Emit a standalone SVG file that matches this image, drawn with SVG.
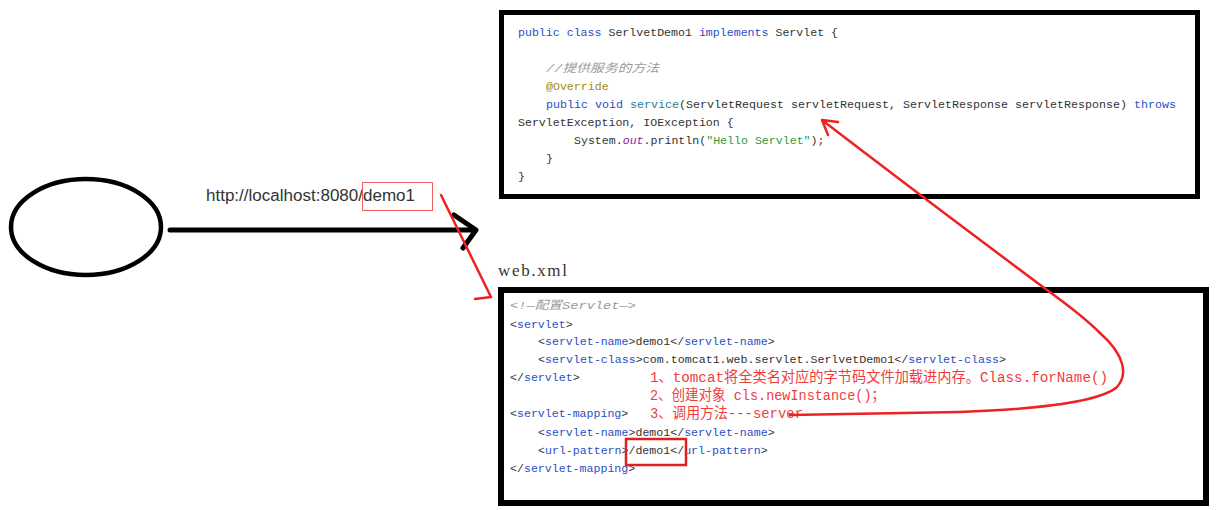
<svg xmlns="http://www.w3.org/2000/svg" width="1220" height="510" viewBox="0 0 1220 510">
<style>
.code{font-family:"Liberation Mono","Noto Sans CJK SC",monospace;font-size:11.6px;fill:#333;}
.kw{fill:#2a4fc4;}
.tag{fill:#2a4fc4;}
.cm{fill:#9a9a9a;font-style:italic;}
.an{fill:#a08a10;}
.mt{fill:#1f7f9a;}
.st{fill:#2f9a3a;}
.fd{fill:#8a1a9a;font-style:italic;}
.red{font-family:"Liberation Mono","Noto Sans CJK SC",monospace;font-size:14.5px;fill:#f03c3c;}
.box{fill:#fff;stroke:#000;}
.redl{fill:none;stroke:#ee2222;stroke-width:2.5;stroke-linecap:round;stroke-linejoin:round;}
</style>
<rect width="1220" height="510" fill="#fff"/>

<g id="client">
<ellipse cx="86" cy="227" rx="75" ry="48" fill="none" stroke="#000" stroke-width="4.5"/>
</g>

<g id="url-label">
<text x="206" y="201" font-family="Liberation Sans, Noto Sans, sans-serif" font-size="16" fill="#333" textLength="209" lengthAdjust="spacingAndGlyphs">http://localhost:8080/demo1</text>
<rect x="362.5" y="182.5" width="70" height="28" fill="none" stroke="#f06060" stroke-width="1"/>
</g>

<g id="servlet-class">
<rect class="box" x="501.5" y="12.5" width="696" height="184" stroke-width="5"/>
<text class="code" x="518" y="36"><tspan class="kw">public class</tspan> SerlvetDemo1 <tspan class="kw">implements</tspan> Servlet {</text>
<text class="code cm" x="546" y="72" textLength="113" lengthAdjust="spacingAndGlyphs">//提供服务的方法</text>
<text class="code an" x="546" y="90">@Override</text>
<text class="code" x="546" y="108" textLength="630" lengthAdjust="spacingAndGlyphs"><tspan class="kw">public void</tspan> <tspan class="mt">service</tspan>(ServletRequest servletRequest, ServletResponse servletResponse) <tspan class="kw">throws</tspan></text>
<text class="code" x="518" y="126">ServletException, IOException {</text>
<text class="code" x="574" y="144">System.<tspan class="fd">out</tspan>.println(<tspan class="st">"Hello Servlet"</tspan>);</text>
<text class="code" x="546" y="162">}</text>
<text class="code" x="518" y="180">}</text>
</g>

<g id="web-xml">
<text x="498" y="276" font-family="Liberation Serif, serif" font-size="17" fill="#333" textLength="69" lengthAdjust="spacing">web.xml</text>
<rect class="box" x="501" y="290" width="705" height="213" stroke-width="6"/>
<text class="code cm" x="510" y="309" textLength="126" lengthAdjust="spacingAndGlyphs">&lt;!—配置Servlet—&gt;</text>
<text class="code" x="510" y="328">&lt;<tspan class="tag">servlet</tspan>&gt;</text>
<text class="code" x="538" y="345">&lt;<tspan class="tag">servlet-name</tspan>&gt;demo1&lt;/<tspan class="tag">servlet-name</tspan>&gt;</text>
<text class="code" x="538" y="363" textLength="468" lengthAdjust="spacingAndGlyphs">&lt;<tspan class="tag">servlet-class</tspan>&gt;com.tomcat1.web.servlet.SerlvetDemo1&lt;/<tspan class="tag">servlet-class</tspan>&gt;</text>
<text class="code" x="510" y="381">&lt;/<tspan class="tag">servlet</tspan>&gt;</text>
<text class="code" x="510" y="417">&lt;<tspan class="tag">servlet-mapping</tspan>&gt;</text>
<text class="code" x="538" y="436">&lt;<tspan class="tag">servlet-name</tspan>&gt;demo1&lt;/<tspan class="tag">servlet-name</tspan>&gt;</text>
<text class="code" x="538" y="454">&lt;<tspan class="tag">url-pattern</tspan>&gt;/demo1&lt;/<tspan class="tag">url-pattern</tspan>&gt;</text>
<text class="code" x="510" y="472">&lt;/<tspan class="tag">servlet-mapping</tspan>&gt;</text>
<rect x="626" y="439" width="60" height="26" fill="none" stroke="#e02020" stroke-width="2.5"/>
</g>

<g id="steps">
<text class="red" x="650" y="382" textLength="458" lengthAdjust="spacingAndGlyphs">1、tomcat将全类名对应的字节码文件加载进内存。Class.forName()</text>
<text class="red" x="650" y="400" textLength="235" lengthAdjust="spacingAndGlyphs">2、创建对象 cls.newInstance()；</text>
<text class="red" x="650" y="418" textLength="153" lengthAdjust="spacingAndGlyphs">3、调用方法---server</text>
</g>

<g id="connectors">
<line x1="170" y1="230" x2="475" y2="230" stroke="#000" stroke-width="5" stroke-linecap="round"/>
<polyline points="454,215 476,230 463,248" fill="none" stroke="#000" stroke-width="5" stroke-linecap="round" stroke-linejoin="round"/>
<path class="redl" d="M441 195 L491 297 M475 299 L491 297"/>
<path class="redl" d="M790 415 L960 412 C1040 409 1100 402 1117 387 C1128 375 1125 355 1100 333 C1085 318 1065 303 1047 290 C980 240 900 180 822 120 M838 122 L822 120 L828 135"/>
</g>
</svg>
